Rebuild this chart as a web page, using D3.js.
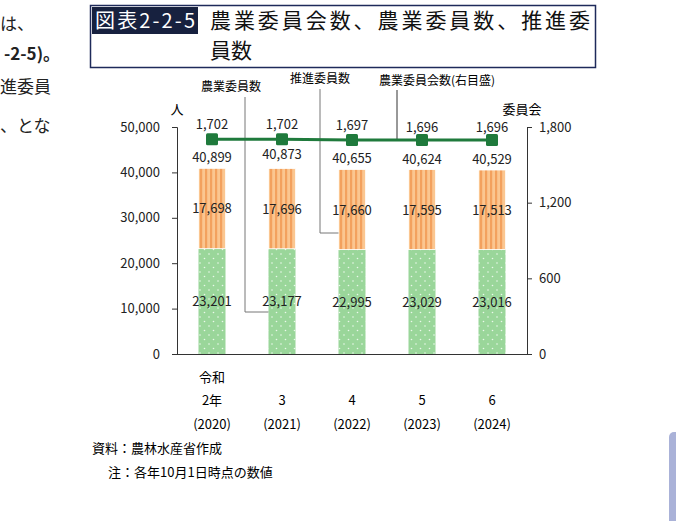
<!DOCTYPE html>
<html lang="ja">
<head>
<meta charset="UTF-8">
<script src="https://d3js.org/d3.v7.min.js"></script>
<style>
  body { margin: 0; background: #fff; font-family: "Noto Sans CJK JP", sans-serif; }
</style>
</head>
<body>
<svg id="chart" width="676" height="521"></svg>
<script>
const years = ["2年", "3", "4", "5", "6"];
const yearsWestern = ["(2020)", "(2021)", "(2022)", "(2023)", "(2024)"];
const nogyoIin = [23201, 23177, 22995, 23029, 23016];
const suishinIin = [17698, 17696, 17660, 17595, 17513];
const totals = [40899, 40873, 40655, 40624, 40529];
const iinkai = [1702, 1702, 1697, 1696, 1696];
const leftTicks = [0, 10000, 20000, 30000, 40000, 50000];
const rightTicks = [0, 600, 1200, 1800];

const svg = d3.select("#chart");
const font = "'Noto Sans CJK JP', sans-serif";
const fmt = d3.format(",");

// patterns
const defs = svg.append("defs");
const st = defs.append("pattern").attr("id", "stripe").attr("patternUnits", "userSpaceOnUse")
  .attr("width", 5).attr("height", 5);
st.append("rect").attr("width", 5).attr("height", 5).attr("fill", "#fbc690");
st.append("rect").attr("width", 2.2).attr("height", 5).attr("fill", "#f3a15e");
const dot = defs.append("pattern").attr("id", "dots").attr("patternUnits", "userSpaceOnUse")
  .attr("width", 9).attr("height", 9);
dot.append("rect").attr("width", 9).attr("height", 9).attr("fill", "#9ad69a");
dot.append("circle").attr("cx", 2).attr("cy", 2).attr("r", 0.8).attr("fill", "#eaf8ea");
dot.append("circle").attr("cx", 6.5).attr("cy", 6.5).attr("r", 0.8).attr("fill", "#eaf8ea");

// cut-off body text at left (cropped in the reference too)
[["は、", 30], ["-2-5)。", 60], ["進委員", 93], ["、とな", 132]].forEach(([t, y], i) => {
  svg.append("text").attr("x", i === 1 ? 4 : 0).attr("y", y).attr("font-family", font)
    .attr("font-size", 17).attr("font-weight", i === 1 ? "bold" : "normal").attr("fill", "#222").text(t);
});

// title box
svg.append("rect").attr("x", 90.5).attr("y", 5.5).attr("width", 505).attr("height", 62)
  .attr("fill", "none").attr("stroke", "#1e2a5a").attr("stroke-width", 1.5);
svg.append("rect").attr("x", 92).attr("y", 7).attr("width", 106).attr("height", 27).attr("fill", "#17213f");
svg.append("text").attr("x", 95).attr("y", 28).attr("font-family", font).attr("font-size", 20)
  .attr("textLength", 100).attr("fill", "#fff").text("図表2-2-5");
svg.append("text").attr("x", 210).attr("y", 28).attr("font-family", font).attr("font-size", 21)
  .attr("textLength", 380).attr("fill", "#111").text("農業委員会数、農業委員数、推進委");
svg.append("text").attr("x", 210).attr("y", 58).attr("font-family", font).attr("font-size", 21)
  .attr("fill", "#111").text("員数");

// scales
const x = d3.scaleBand().domain(years).range([177, 527]);
const yL = d3.scaleLinear().domain([0, 50000]).range([354, 127]);
const yR = d3.scaleLinear().domain([0, 1800]).range([354, 127]);
const bw = 27;

const axL = svg.append("g").attr("transform", "translate(177,0)")
  .call(d3.axisLeft(yL).tickValues(leftTicks).tickFormat(fmt).tickSize(5));
const axR = svg.append("g").attr("transform", "translate(527,0)")
  .call(d3.axisRight(yR).tickValues(rightTicks).tickFormat(fmt).tickSize(5));
[axL, axR].forEach(a => {
  a.select(".domain").attr("stroke", "#333");
  a.selectAll(".tick line").attr("stroke", "#333");
  a.selectAll("text").attr("font-family", font).attr("font-size", 13).attr("fill", "#222");
});
axL.selectAll("text").attr("x", -17);
axR.selectAll("text").attr("x", 12);
svg.append("line").attr("x1", 177).attr("x2", 527).attr("y1", 354.5).attr("y2", 354.5).attr("stroke", "#333");

svg.append("text").attr("x", 177).attr("y", 114).attr("text-anchor", "middle").attr("font-family", font)
  .attr("font-size", 13).text("人");
svg.append("text").attr("x", 522).attr("y", 114).attr("text-anchor", "middle").attr("font-family", font)
  .attr("font-size", 13).text("委員会");

// bars
const cx = d => x(d) + x.bandwidth() / 2;
svg.selectAll(".b1").data(years).enter().append("rect")
  .attr("x", d => cx(d) - bw / 2).attr("width", bw)
  .attr("y", (d, i) => yL(nogyoIin[i])).attr("height", (d, i) => yL(0) - yL(nogyoIin[i]))
  .attr("fill", "url(#dots)");
svg.selectAll(".b2").data(years).enter().append("rect")
  .attr("x", d => cx(d) - bw / 2).attr("width", bw)
  .attr("y", (d, i) => yL(nogyoIin[i] + suishinIin[i]))
  .attr("height", (d, i) => yL(nogyoIin[i]) - yL(nogyoIin[i] + suishinIin[i]))
  .attr("fill", "url(#stripe)").attr("stroke", "#fff").attr("stroke-width", 0.8);

// leader lines
const lead = "#777";
svg.append("polyline").attr("points", `245,97 245,312 ${cx(years[1]) - bw / 2},312`)
  .attr("fill", "none").attr("stroke", lead);
svg.append("polyline").attr("points", `320,89 320,233 ${cx(years[2]) - bw / 2},233`)
  .attr("fill", "none").attr("stroke", lead);
svg.append("line").attr("x1", 397).attr("x2", 397).attr("y1", 90).attr("y2", yR(iinkai[3]))
  .attr("stroke", "#333");

// line
svg.append("path").datum(iinkai)
  .attr("d", d3.line().x((d, i) => cx(years[i])).y(d => yR(d)))
  .attr("fill", "none").attr("stroke", "#1f7a3c").attr("stroke-width", 3);
svg.selectAll(".mk").data(iinkai).enter().append("rect")
  .attr("x", (d, i) => cx(years[i]) - 6).attr("y", d => yR(d) - 6)
  .attr("width", 12).attr("height", 12).attr("rx", 1.5).attr("fill", "#1f7a3c");

// labels
const lab = (vals, yf) => svg.selectAll(null).data(vals).enter().append("text")
  .attr("x", (d, i) => cx(years[i])).attr("y", yf).attr("text-anchor", "middle")
  .attr("font-family", font).attr("font-size", 13).attr("fill", "#222").text(d => fmt(d));
lab(iinkai, (d, i) => yR(d) - 10 + (i >= 3 ? 2 : 0));
lab(totals, (d, i) => yL(d) - 6 + (i === 1 ? -3 : 0));
lab(suishinIin, (d, i) => yL(nogyoIin[i] + suishinIin[i] / 2) + 5);
lab(nogyoIin, (d, i) => yL(nogyoIin[i] / 2) + 5);

// legend labels
svg.append("text").attr("x", 231).attr("y", 91).attr("text-anchor", "middle").attr("font-family", font)
  .attr("font-size", 12).text("農業委員数");
svg.append("text").attr("x", 320).attr("y", 83).attr("text-anchor", "middle").attr("font-family", font)
  .attr("font-size", 12).text("推進委員数");
svg.append("text").attr("x", 437).attr("y", 85).attr("text-anchor", "middle").attr("font-family", font)
  .attr("font-size", 12).text("農業委員会数(右目盛)");

// x labels
svg.append("text").attr("x", cx(years[0])).attr("y", 382).attr("text-anchor", "middle")
  .attr("font-family", font).attr("font-size", 13).text("令和");
svg.selectAll(null).data(years).enter().append("text")
  .attr("x", d => cx(d)).attr("y", 405).attr("text-anchor", "middle")
  .attr("font-family", font).attr("font-size", 13).text(d => d);
svg.selectAll(null).data(yearsWestern).enter().append("text")
  .attr("x", (d, i) => cx(years[i])).attr("y", 429).attr("text-anchor", "middle")
  .attr("font-family", font).attr("font-size", 13).text(d => d);

// notes
svg.append("text").attr("x", 92).attr("y", 453).attr("font-family", font).attr("font-size", 13)
  .text("資料：農林水産省作成");
svg.append("text").attr("x", 108).attr("y", 477).attr("font-family", font).attr("font-size", 13)
  .text("注：各年10月1日時点の数値");

// scrollbar remnant
svg.append("rect").attr("x", 669).attr("y", 432).attr("width", 12).attr("height", 95).attr("rx", 5)
  .attr("fill", "#aab2d8");
</script>
</body>
</html>
